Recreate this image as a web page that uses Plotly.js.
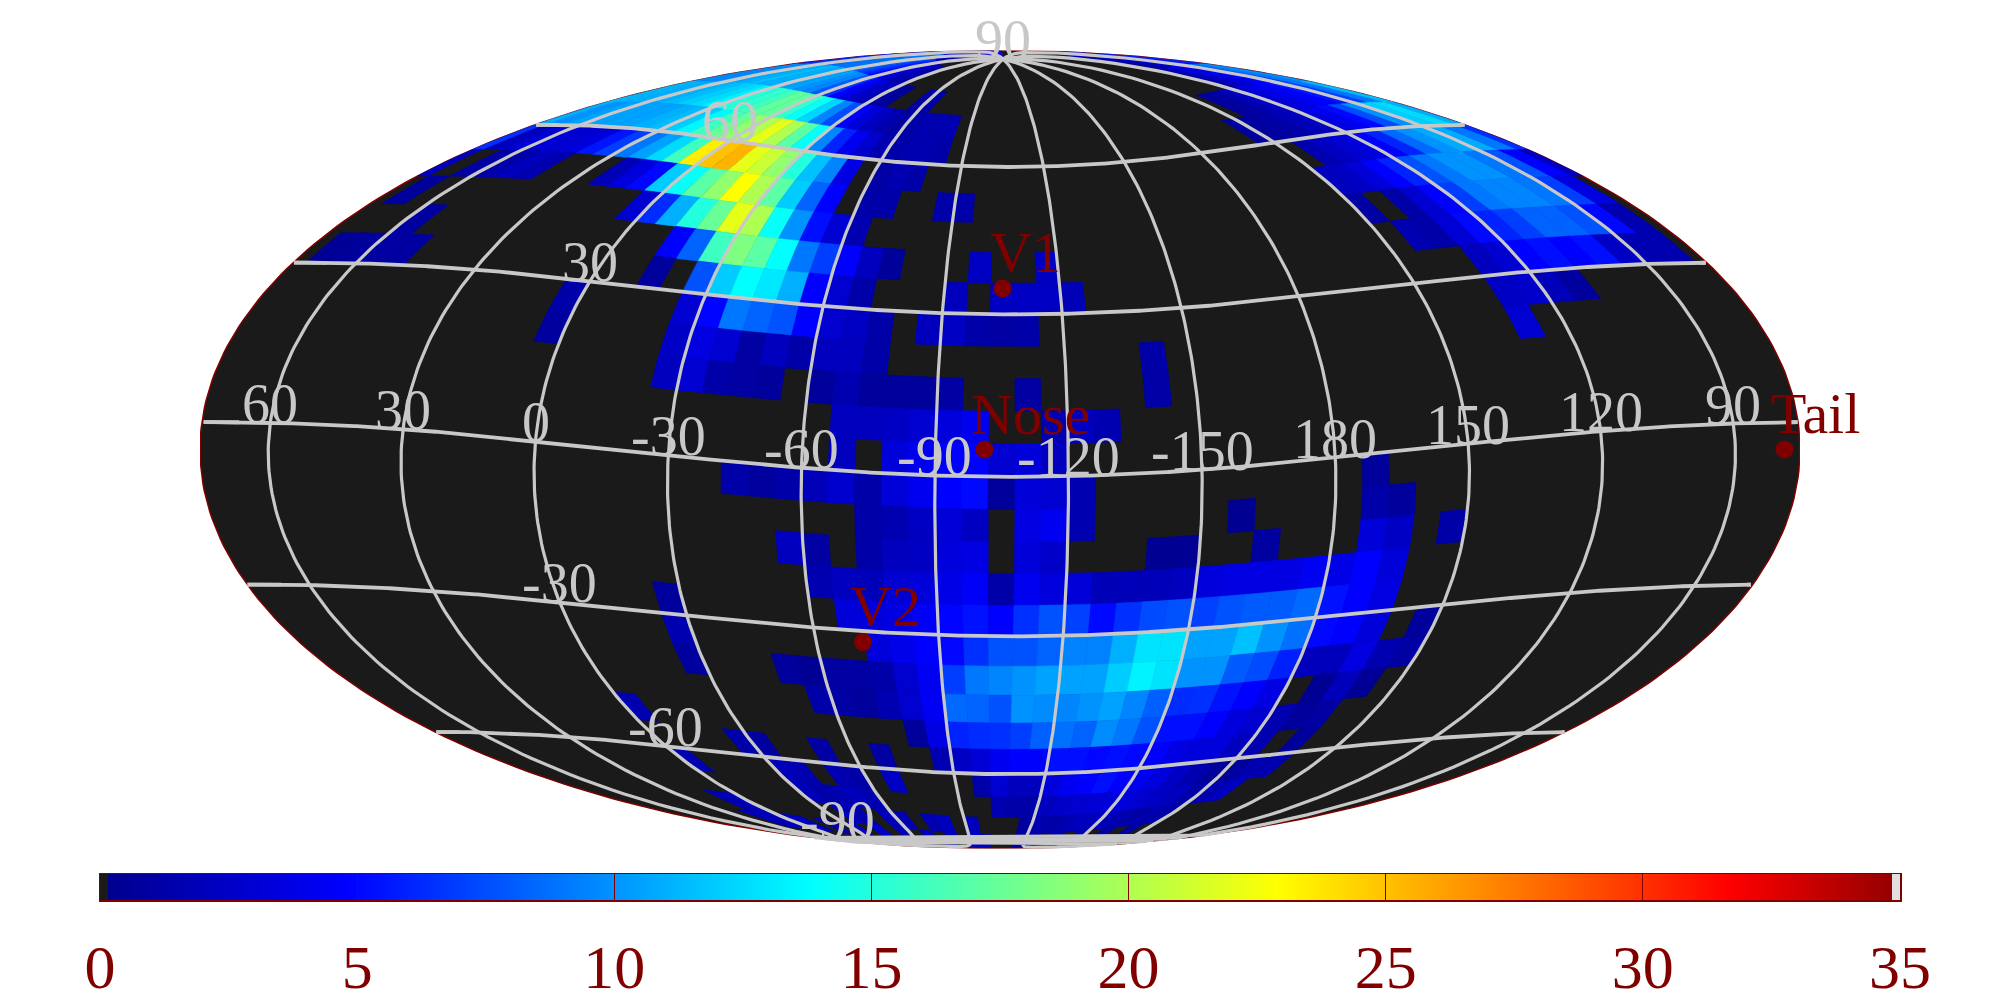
<!DOCTYPE html>
<html><head><meta charset="utf-8"><script src="https://cdn.plot.ly/plotly-3.0.1.min.js"></script>
<style>html,body{margin:0;background:#fff}</style></head><body><div id="g" style="width:2000px;height:1000px"></div>
<script>
// ---- data: each band = ecliptic latitude bin (name = lower edge), rows of [left-edge longitude, values running rightward on the page]
const band_p84=[[72,5,5,5,4,4,4,3,3,3,2,2,1]];
const band_p78=[[72,7,7.5,8,8.5,9,9,9,8.5,8,7,6,5,4,3,2,1.5,1],[-246,1,1.5,2.5,3,4,5,6]];
const band_p72=[[72,9.5,10,10.5,11,11.5,11,11,10.5,10.5,10,9.5,8,6.5,4.8,3.4,2.4,1.8,1,.6],[-54,1,1.2],[-240,1,2,3,4,5,7,9,10]];
const band_p66=[[72,11,11,11,11.4,12,12.5,13.3,15,15.5,16,17.3,17.3,15.5,14,12.3,9.5,7.5,4.8,3.2,2.3,1.6,1],[-60,1.2,1.5,1.5,1.5],[-216,.8,1,1.5,2.5,3,3.5,4.2,4.8,5.5,7,9,11.5]];
const band_p60=[[72,10,10.5,10.5,10.5,10.5,11,11.4,12,13.6,16,17.5,19,20,22,20,17,14,9.5,6,4.2,2.8,1.5,1.2,1.5,1.5,1.2],[-204,.9,.7,1,1.2,1.8,2.1,3.4,4.2,5,7.5,10,12,12.5,11]];
const band_p54=[[72,2,3,3,2.9,3.4,5.5,7,9,10.5,12.5,16,23.5,25,25.5,22,21,19,15,11.6,9.5,3.6],[-60,1,1.5,1.2],[-216,1.5,2.1,2.9,3.4,4.8,6,8.5,10,10.8,10.8,9,6.5]];
const band_p48=[[66,1,1.2,2,1.5],[24,1.8,3.4,5,12,14,17,19,22.9,20,17,12,8.3,4.8],[-60,1.2,1.2],[-84,1.2,1.2],[-210,2.1,2.4,3.2,4.8,6,7.7,9,10,10,9,7.7,4.8,2.1]];
const band_p42=[[72,.6],[6,2.9,6.3,11,15,17.5,22,20,14,10,5.3,2.9,1.5],[-210,1],[-222,1.2,2.9,4.8,7,9,9.5,9.5,9,7,3.5]];
const band_p36=[[60,.9],[-12,4.8,8.3,16,18.3,17,13.8,9,7,4.8,2.1,.6],[-96,2.3],[-114,2.3],[-216,1.5,1.2,3,5,6,7,8.3,8.3,7.7,5,1.5]];
const band_p30=[[72,.5,.7,1,.9],[-12,.7],[-24,7.7,12,13.8,13,11,4.8,2.8,1.2],[-90,2],[-102,2.3,2.3,2.3,1.8],[-228,2.1,2.9,4.8,5.3,4.8,5.3,2.4,1.5,1.5]];
const band_p24=[[6,1.2],[-24,2.9,4.9,9,8.3,7.7,4.8,2.8,2.3,1.2],[-84,2,2.3,1.2,1,1.2],[-228,2.4,2.6,1.9,.8]];
const band_p18=[[6,.8],[-24,2.4,3.5,2.9,1,2.1,1.2,2.1,2.1,1.2],[-138,1.1],[-228,2.9]];
const band_p12=[[-24,2.1,2.9,1.2,1,.7],[-60,.6,1.5,.6,.6,.6,1],[-108,1],[-138,1.1]];
const band_p06=[[-66,2.1,2.1,2.4,2.9,3.4,4.2],[-114,1.5,2.1,1.5]];
const band_p00=[[-66,2.1],[-78,3.2,4.2,4.8,4.8,2.9,3.2,2.1]];
const band_m06=[[-42,1.2,.8,1.2,1.85,2.7,1.2,3.2,4.2,4.8,5.1,.6,3.2,2.9,1.5],[-186,.6]];
const band_m12=[[-72,1.2,1.5,2.3,3.2,2.3],[-108,3.6,4.2,1.5],[-156,.3],[-186,1.2,.7]];
const band_m18=[[-54,2.1,1],[-72,1.2,2.1,2.3,3.4,3.6],[-108,3.2,2.5],[-138,.3,.3],[-162,.9],[-186,3.2,2.4],[-204,1.2]];
const band_m24=[[-60,1.5,2.1,1.9,2.9,3.2,3.8,4.6,1.2,4.2,3.4,3.2,1.9,1.9,1.9,2.1,3.4,3.6,3.6,3.6,4.3,3.8,4.8,3.2]];
const band_m30=[[-24,.7],[-66,3.2,3.4,3.6,4.5,4.9,5.4,4.8,6.5,7.7,7.1,5.1,6.5,7.4,7.7,7.1,7.7,8,8,8.5,5.4,4.8,3.5]];
const band_m36=[[-24,1.5],[-72,3.4,3.9,4.8,5,6.5,7.7,7.7,8.3,9.4,9.4,11,12.8,12.8,10.5,10.5,11.6,10,8.8,5,4.8,3.2],[-204,.6]];
const band_m42=[[-24,.8],[-48,.7,.4,1,1,1.2,2.8,4.3,7,9,9.5,10,10.5,10.5,10.5,12,13.4,12.8,10,10,8,7.4,5.9,2,2,3.5,1.5,1]];
const band_m48=[[-54,1.2,1,.7,1.5,2.8,4.3,8.5,8.3,7.7,10,9.7,9.5,10,10.5,9.5,8.2,6.3,6.5,5.4,4.8,3.6],[-186,.4,2,.5]];
const band_m54=[[0,1.5],[-78,.6,3.6,6,6.3,6.5,7,8.2,8.8,8.3,9.7,9,7.7,5.3,5.3,4.8,3.4,2.8,1.5,.6,1]];
const band_m60=[[-24,1.2,.9],[-48,1],[-66,1],[-84,1.5,2.4,3,4.2,4.8,4.8,5.3,5.3,5,5.3,5,4.8,3.6,3.4,3.4,2.1,1.5],[-192,.6]];
const band_m66=[[0,1.5],[-30,2,1.5],[-48,1.5,1.2],[-66,2.4],[-96,1.2,2.9,2.1,2.1,3.4,4.2,4.8,5.3,4.8,4.2,3.4,2.4,1.5,.7,.6,1.5,1.5]];
const band_m72=[[-30,1.8,1.2,1.5,2,1.5],[-102,1.5,1.2,1.2,2.1,2.5,2.8,3,3.2,3.4,2.9,2.4,2.1,1.2,1.5,2.1]];
const band_m78=[[12,1.5,2],[-36,2,1.5],[-54,2,1.5],[-72,1.5,2],[-90,2],[-114,.8,1.5,1.2,1.5,2,2,1.9,1.5,1.2,1.5,1.2]];
const band_m84=[[18,1.5,2,2,2,2],[-18,2],[-30,2.5],[-42,2.5],[-54,1.8],[-66,2],[-78,2],[-90,3,2.5],[-114,1,1],[-132,1.5],[-144,1.2],[-156,1],[-168,1]];
const bandLowerEdges=[84,78,72,66,60,54,48,42,36,30,24,18,12,6,0,-6,-12,-18,-24,-30,-36,-42,-48,-54,-60,-66,-72,-78,-84];
const bandRows=[band_p84,band_p78,band_p72,band_p66,band_p60,band_p54,band_p48,band_p42,band_p36,band_p30,band_p24,band_p18,band_p12,band_p06,band_p00,band_m06,band_m12,band_m18,band_m24,band_m30,band_m36,band_m42,band_m48,band_m54,band_m60,band_m66,band_m72,band_m78,band_m84];
const meridianLons=[60,30,0,-30,-60,-90,-120,-150,-180,-210,-240,-270];
const meridianLabels=['60','30','0','-30','-60','-90','-120','-150','180','150','120','90'];
const parallelLats=[60,30,0,-30,-60];
const parallelLabelLats=[90,60,30,-30,-60,-90];
const parallelLabels=['90','60','30','-30','-60','-90'];
const markerNames=['V1','Nose','V2','Tail'];
const markerLon=[-105.06,-101.08,-71.47,78.92];
const markerLat=[34.96,4.96,-32.17,-4.96];
const barTicks=[0,5,10,15,20,25,30,35];
const scaleValues=[0.15,4.8,13.8,18.35,22.9,31.65,34.85];
const scaleColors=[[0,0,143],[0,0,255],[0,255,255],[128,255,128],[255,255,0],[255,0,0],[150,0,0]];
const CMIN=0,CMAX=35,BG='#1a1a1a',GRID='#c8c8c8',RED='#800000',SERIF='"Liberation Serif","Times New Roman",serif';

// ---- rotated Mollweide
const D=Math.PI/180,CEN=-108,ROLL=-3.4,TILT=5*D;
function native(lam,bet){const a=(lam-CEN)*D,b=bet*D,x=Math.cos(b)*Math.cos(a),y=Math.cos(b)*Math.sin(a),z=Math.sin(b);
 const xp=x*Math.cos(TILT)+z*Math.sin(TILT),zp=-x*Math.sin(TILT)+z*Math.cos(TILT);
 let L=Math.atan2(y,xp)/D+ROLL;if(L>180)L-=360;if(L<-180)L+=360;return [L,Math.asin(Math.max(-1,Math.min(1,zp)))];}
function moll(L,phi){let th=phi;for(let i=0;i<50;i++){const d=2+2*Math.cos(2*th);if(d<1e-7)break;th-=(2*th+Math.sin(2*th)-Math.PI*Math.sin(phi))/d;}
 return [-(L/180)*Math.cos(th),Math.sin(th)];}
function rgb(c){return 'rgb('+c.map(Math.round).join(',')+')';}
function colorOf(v){if(v<=scaleValues[0])return rgb(scaleColors[0]);for(let i=1;i<scaleValues.length;i++)if(v<=scaleValues[i]){const t=(v-scaleValues[i-1])/(scaleValues[i]-scaleValues[i-1]);return rgb(scaleColors[i].map((c,k)=>scaleColors[i-1][k]+t*(c-scaleColors[i-1][k])));}return rgb(scaleColors[scaleColors.length-1]);}

const traces=[];
{const xs=[],ys=[];for(let i=0;i<=360;i++){xs.push(Math.cos(i*D));ys.push(Math.sin(i*D));}
 traces.push({type:'scatter',mode:'lines',x:xs,y:ys,fill:'toself',fillcolor:BG,line:{color:RED,width:1.5},hoverinfo:'skip'});}
function cellTrace(lam,bet,v){const pts=[];const n=4;
 for(let i=0;i<n;i++)pts.push([lam-6*i/n,bet]);for(let i=0;i<n;i++)pts.push([lam-6,bet+6*i/n]);
 for(let i=0;i<n;i++)pts.push([lam-6+6*i/n,bet+6]);for(let i=0;i<n;i++)pts.push([lam,bet+6-6*i/n]);
 const nat=pts.map(p=>native(p[0],p[1]));let prev=nat[0][0];const un=nat.map(q=>{let L=q[0];while(L-prev>180)L-=360;while(L-prev<-180)L+=360;prev=L;return [L,q[1]];});
 const mx=Math.max(...un.map(q=>q[0])),mn=Math.min(...un.map(q=>q[0]));const shifts=[0];if(mx>180)shifts.push(-360);if(mn<-180)shifts.push(360);
 const xs=[],ys=[];shifts.forEach(s=>{un.forEach(q=>{const p=moll(Math.max(-180,Math.min(180,q[0]+s)),q[1]);xs.push(p[0]);ys.push(p[1]);});xs.push(xs[xs.length-un.length]);ys.push(ys[ys.length-un.length]);xs.push(null);ys.push(null);});
 const c=colorOf(v);return {type:'scatter',mode:'lines',x:xs,y:ys,fill:'toself',fillcolor:c,line:{color:c,width:.6},hoverinfo:'skip'};}
bandRows.forEach((rows,i)=>{const bet=bandLowerEdges[i];rows.forEach(r=>{for(let k=1;k<r.length;k++){if(r[k]>0)traces.push(cellTrace(r[0]-6*(k-1),bet,r[k]));}});});
{const xs=[],ys=[];meridianLons.forEach(l=>{for(let b=-90;b<=90;b+=1){const q=native(l,b),p=moll(q[0],q[1]);xs.push(p[0]);ys.push(p[1]);}xs.push(null);ys.push(null);});
 traces.push({type:'scatter',mode:'lines',x:xs,y:ys,line:{color:GRID,width:3.2},hoverinfo:'skip'});}
{const xs=[],ys=[];parallelLats.forEach(b=>{let prev=null;for(let l=CEN-185;l<=CEN+185;l+=.5){const q=native(l,b);if(prev!==null&&Math.abs(q[0]-prev)>180){xs.push(null);ys.push(null);}prev=q[0];const p=moll(q[0],q[1]);xs.push(p[0]);ys.push(p[1]);}xs.push(null);ys.push(null);});
 traces.push({type:'scatter',mode:'lines',x:xs,y:ys,line:{color:GRID,width:3.8},hoverinfo:'skip'});}
function projectAll(ls,bs){const o=ls.map((l,i)=>{const q=native(l,bs[i]);return moll(q[0],q[1]);});return [o.map(p=>p[0]),o.map(p=>p[1])];}
const mk=projectAll(markerLon,markerLat);
traces.push({type:'scatter',mode:'markers',x:mk[0],y:mk[1],marker:{size:18,color:RED},cliponaxis:false,hoverinfo:'skip'});
const gridFont={family:SERIF,size:56,color:GRID};
const annotations=[];
{const a=projectAll(meridianLons,meridianLons.map(()=>0));meridianLabels.forEach((t,i)=>annotations.push({x:a[0][i],y:a[1][i],text:t,showarrow:false,xanchor:'center',yanchor:'bottom',yshift:-14,font:gridFont}));
 const b=projectAll(parallelLabelLats.map(()=>0),parallelLabelLats);parallelLabels.forEach((t,i)=>annotations.push({x:b[0][i],y:b[1][i],text:t,showarrow:false,xanchor:'center',yanchor:'bottom',yshift:-14,font:gridFont}));}
markerNames.forEach((n,i)=>annotations.push({x:mk[0][i],y:mk[1][i],xref:'x',yref:'y',text:n,showarrow:false,xanchor:'left',yanchor:'bottom',xshift:-15,yshift:1,font:{family:SERIF,size:58,color:RED}}));
const rampN=700,ramp=[];for(let i=0;i<rampN;i++)ramp.push(CMIN+(i+.5)*(CMAX-CMIN)/rampN);
const cs=[[0,BG],[(scaleValues[0]-.001)/CMAX,BG]];scaleValues.forEach((v,i)=>cs.push([v/CMAX,rgb(scaleColors[i])]));cs.push([(scaleValues[6]+.001)/CMAX,'#e0e0e0'],[1,'#e0e0e0']);
traces.push({type:'heatmap',x0:ramp[0],dx:(CMAX-CMIN)/rampN,y:[.5],z:[ramp],zmin:CMIN,zmax:CMAX,colorscale:cs,showscale:false,xaxis:'x2',yaxis:'y2',hoverinfo:'skip'});

Plotly.newPlot('g',traces,{width:2000,height:1000,margin:{l:0,r:0,t:0,b:0},showlegend:false,paper_bgcolor:'#fff',plot_bgcolor:'rgba(0,0,0,0)',annotations,
 xaxis:{range:[-1,1],domain:[.1,.9],visible:false,fixedrange:true},
 yaxis:{range:[-1,1],domain:[.1515,.9495],visible:false,fixedrange:true},
 xaxis2:{anchor:'y2',domain:[.05,.95],range:[CMIN,CMAX],tickvals:barTicks,ticktext:barTicks.map(String),ticks:'inside',ticklen:26,tickwidth:1,tickcolor:RED,showline:true,mirror:true,linecolor:RED,linewidth:1.5,showgrid:false,zeroline:false,tickfont:{family:SERIF,size:62,color:RED},ticklabelstandoff:12,layer:'above traces'},
 yaxis2:{anchor:'x2',domain:[.1,.126],range:[0,1],showticklabels:false,ticks:'',showline:true,mirror:true,linecolor:RED,linewidth:1.5,showgrid:false,zeroline:false}
},{staticPlot:true});
</script></body></html>
